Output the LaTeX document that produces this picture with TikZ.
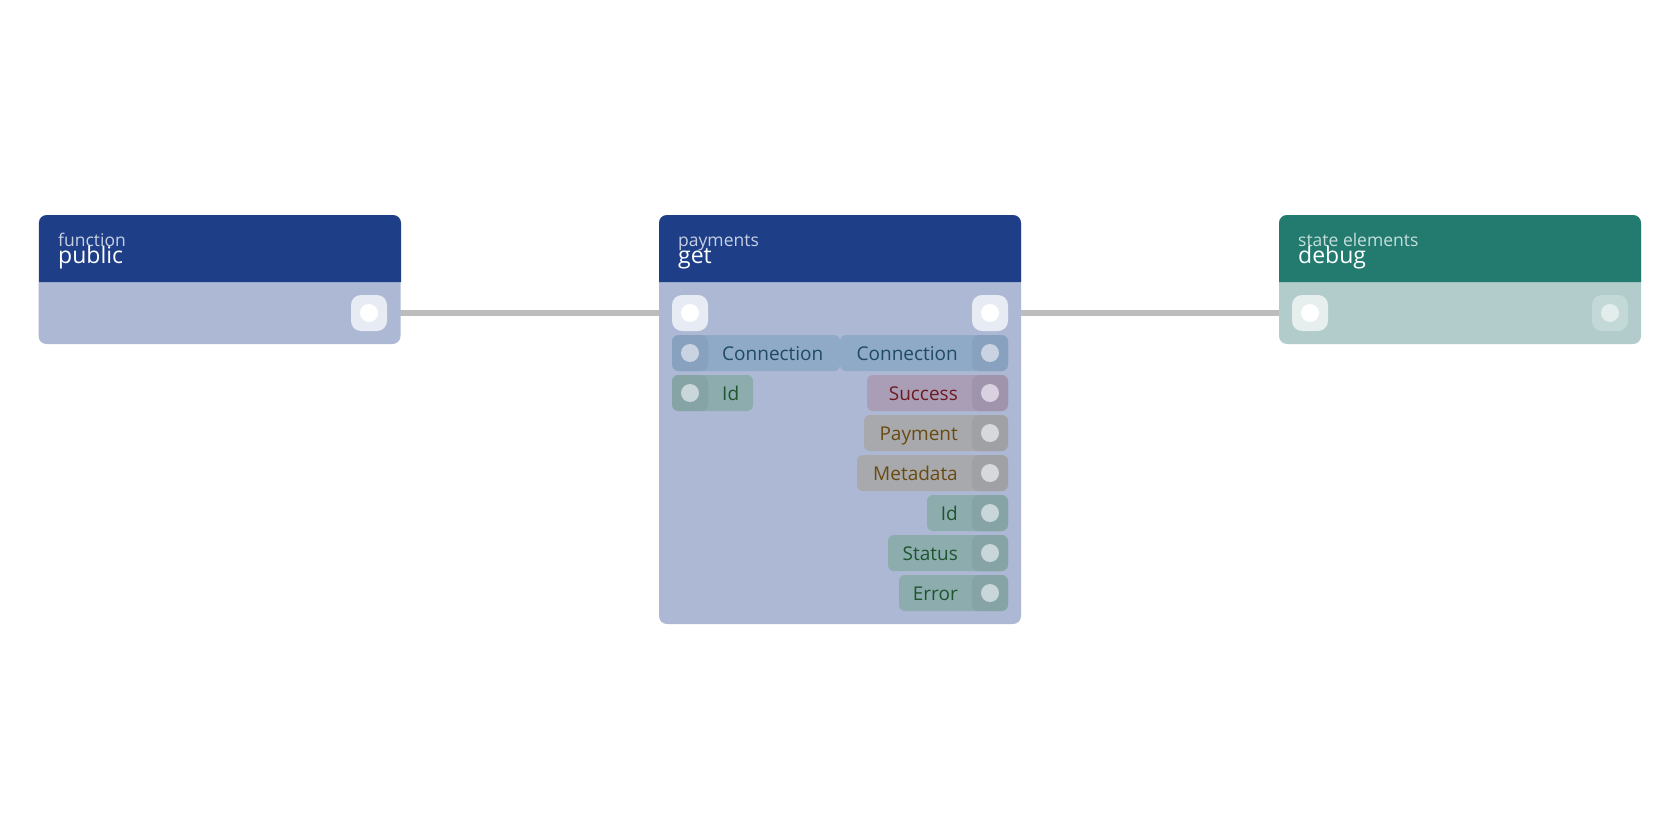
\documentclass[tikz,border=0pt]{standalone}
\usepackage{fontspec}
\setmainfont{Open Sans}
\definecolor{hdrblue}{HTML}{1E3F88}
\definecolor{bodyblue}{HTML}{ADB9D4}
\definecolor{hdrteal}{HTML}{237B70}
\definecolor{bodyteal}{HTML}{B1CCCB}
\definecolor{subtxt}{HTML}{C8D0E2}
\definecolor{subtxtteal}{HTML}{C6DEDB}
\definecolor{portblue}{HTML}{E7EBF3}
\definecolor{portteal}{HTML}{E6EFEE}
\definecolor{portteallt}{HTML}{C3D9D7}
\definecolor{circteallt}{HTML}{E3EDEC}
\definecolor{edgegray}{HTML}{BDBDBD}
\definecolor{connfill}{HTML}{8FAAC6}
\definecolor{connsq}{HTML}{88A1BE}
\definecolor{conncirc}{HTML}{C9D3E1}
\definecolor{conntext}{HTML}{1F4A66}
\definecolor{greenfill}{HTML}{8DACAE}
\definecolor{greensq}{HTML}{86A3A6}
\definecolor{greencirc}{HTML}{C9D6DA}
\definecolor{greentext}{HTML}{1E5430}
\definecolor{redfill}{HTML}{AA9EB7}
\definecolor{redsq}{HTML}{A094AD}
\definecolor{redcirc}{HTML}{D9D1DF}
\definecolor{redtext}{HTML}{6E1A20}
\definecolor{grayfill}{HTML}{A8A9AC}
\definecolor{graysq}{HTML}{A0A1A4}
\definecolor{graycirc}{HTML}{D7D8DB}
\definecolor{graytext}{HTML}{6A4A10}
\pgfdeclarelayer{background}
\pgfdeclarelayer{canvas}
\pgfsetlayers{canvas,background,main}
\begin{document}
\begin{tikzpicture}[x=1pt,y=-1pt,
  box/.style={rectangle, rounded corners=8pt, inner sep=0pt, minimum width=362pt},
  port/.style 2 args={rectangle, rounded corners=10pt, minimum size=36pt, inner sep=0pt, fill=#1,
    path picture={\fill[#2] (path picture bounding box.center) circle (9pt);}},
  pillport/.style 2 args={rectangle, rounded corners=7pt, minimum size=36pt, inner sep=0pt, fill=#1,
    path picture={\fill[#2] (path picture bounding box.center) circle (9pt);}},
  pill/.style={rectangle, rounded corners=6pt, minimum height=36pt, inner sep=0pt},
  lbl/.style={inner sep=0pt, font=\fontsize{19}{22}\selectfont},
  kind/.style={inner sep=0pt, font=\fontsize{17.5}{20}\selectfont},
  title/.style={inner sep=0pt, text=white, font=\fontsize{23}{26}\selectfont},
  edge/.style={draw=edgegray, line width=6pt}]
\begin{pgfonlayer}{canvas}
\fill[white] (0,0) rectangle (1680,840);
\end{pgfonlayer}
\useasboundingbox (0,0) rectangle (1680,840);

% ---------- public ----------
\node[box, fill=bodyblue, minimum height=129pt] (public) at (219.5,279.5) {};
\fill[hdrblue] (39,282) [rounded corners=8pt] -- (39,215) -- (401,215) [sharp corners] -- (401,282) -- cycle;
\node[kind, text=subtxt, anchor=base west] (publick) at (58,246) {function};
\node[title, anchor=base west] (publict) at (58,263) {public};
\node[port={portblue}{white}] (pubout) at (369,313) {};

% ---------- get ----------
\node[box, fill=bodyblue, minimum height=409pt] (get) at (840,419.5) {};
\fill[hdrblue] (659,282) [rounded corners=8pt] -- (659,215) -- (1021,215) [sharp corners] -- (1021,282) -- cycle;
\node[kind, text=subtxt, anchor=base west] (getk) at (678,246) {payments};
\node[title, anchor=base west] (gett) at (678,263) {get};
\node[port={portblue}{white}] (getin) at (690,313) {};
\node[port={portblue}{white}] (getout) at (990,313) {};

% left input pills
\node[pill, fill=connfill, minimum width=168pt] (inconn) at (756,353) {};
\node[pillport={connsq}{conncirc}] (inconnp) at (690,353) {};
\node[lbl, text=conntext, anchor=base west] (inconnt) at (722,360) {Connection};
\node[pill, fill=greenfill, minimum width=81pt] (inid) at (712.5,393) {};
\node[pillport={greensq}{greencirc}] (inidp) at (690,393) {};
\node[lbl, text=greentext, anchor=base west] (inidt) at (722,400) {Id};

% right output pills
\node[pill, fill=connfill, minimum width=168pt] (outconn) at (924,353) {};
\node[pillport={connsq}{conncirc}] (outconnp) at (990,353) {};
\node[lbl, text=conntext, anchor=base east] (outconnt) at (958,360) {Connection};

\node[pill, fill=redfill, minimum width=141pt] (outsucc) at (937.5,393) {};
\node[pillport={redsq}{redcirc}] (outsuccp) at (990,393) {};
\node[lbl, text=redtext, anchor=base east] (outsucct) at (958,400) {Success};

\node[pill, fill=grayfill, minimum width=144pt] (outpay) at (936,433) {};
\node[pillport={graysq}{graycirc}] (outpayp) at (990,433) {};
\node[lbl, text=graytext, anchor=base east] (outpayt) at (958,440) {Payment};

\node[pill, fill=grayfill, minimum width=151pt] (outmeta) at (932.5,473) {};
\node[pillport={graysq}{graycirc}] (outmetap) at (990,473) {};
\node[lbl, text=graytext, anchor=base east] (outmetat) at (958,480) {Metadata};

\node[pill, fill=greenfill, minimum width=81pt] (outid) at (967.5,513) {};
\node[pillport={greensq}{greencirc}] (outidp) at (990,513) {};
\node[lbl, text=greentext, anchor=base east] (outidt) at (958,520) {Id};

\node[pill, fill=greenfill, minimum width=120pt] (outstat) at (948,553) {};
\node[pillport={greensq}{greencirc}] (outstatp) at (990,553) {};
\node[lbl, text=greentext, anchor=base east] (outstatt) at (958,560) {Status};

\node[pill, fill=greenfill, minimum width=109pt] (outerr) at (953.5,593) {};
\node[pillport={greensq}{greencirc}] (outerrp) at (990,593) {};
\node[lbl, text=greentext, anchor=base east] (outerrt) at (958,600) {Error};

% ---------- debug ----------
\node[box, fill=bodyteal, minimum height=129pt] (debug) at (1460,279.5) {};
\fill[hdrteal] (1279,282) [rounded corners=8pt] -- (1279,215) -- (1641,215) [sharp corners] -- (1641,282) -- cycle;
\node[kind, text=subtxtteal, anchor=base west] (debugk) at (1298,246) {state elements};
\node[title, anchor=base west] (debugt) at (1298,263) {debug};
\node[port={portteal}{white}] (debin) at (1310,313) {};
\node[port={portteallt}{circteallt}] (debout) at (1610,313) {};

% ---------- connectors ----------
\begin{pgfonlayer}{background}
\draw[edge] (pubout.center) -- (getin.center);
\draw[edge] (getout.center) -- (debin.center);
\end{pgfonlayer}
\end{tikzpicture}
\end{document}
